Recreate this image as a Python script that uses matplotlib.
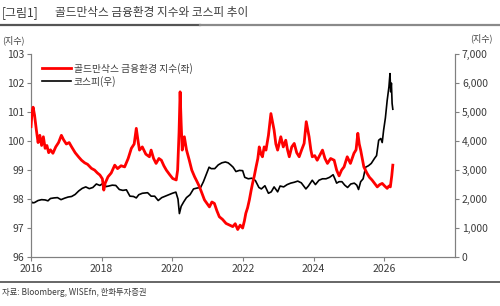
import matplotlib
matplotlib.use('Agg')
import matplotlib.pyplot as plt
from matplotlib.lines import Line2D
from matplotlib.ticker import FuncFormatter

plt.rcParams['font.family'] = ['Noto Sans CJK KR', 'DejaVu Sans']

# 골드만삭스 금융환경 지수 (left axis), decimal years
fci_t = [2016.00, 2016.03, 2016.06, 2016.10, 2016.15, 2016.20, 2016.25, 2016.30, 2016.35, 2016.40,
         2016.45, 2016.50, 2016.55, 2016.62, 2016.70, 2016.78, 2016.86, 2016.92, 2017.00, 2017.08,
         2017.15, 2017.25, 2017.35, 2017.43, 2017.52, 2017.60, 2017.71, 2017.80, 2017.88, 2017.95,
         2018.02, 2018.06, 2018.10, 2018.18, 2018.27, 2018.37, 2018.45, 2018.55, 2018.65, 2018.75,
         2018.84, 2018.92, 2018.98, 2019.03, 2019.07, 2019.15, 2019.25, 2019.35, 2019.40, 2019.47,
         2019.54, 2019.62, 2019.69, 2019.76, 2019.83, 2019.92, 2020.01, 2020.11, 2020.15, 2020.19,
         2020.22, 2020.25, 2020.28, 2020.34, 2020.40, 2020.48, 2020.55, 2020.63, 2020.70, 2020.77,
         2020.84, 2020.91, 2020.98, 2021.05, 2021.12, 2021.19, 2021.26, 2021.33, 2021.42, 2021.52,
         2021.62, 2021.71, 2021.78, 2021.85, 2021.92, 2021.99, 2022.04, 2022.08, 2022.13, 2022.18,
         2022.23, 2022.27, 2022.32, 2022.37, 2022.42, 2022.46, 2022.51, 2022.55, 2022.60, 2022.65,
         2022.72, 2022.79, 2022.83, 2022.88, 2022.93, 2022.98, 2023.03, 2023.07, 2023.14, 2023.21,
         2023.26, 2023.31, 2023.38, 2023.45, 2023.52, 2023.59, 2023.66, 2023.73, 2023.79, 2023.83,
         2023.87, 2023.92, 2023.96, 2024.03, 2024.10, 2024.17, 2024.25, 2024.32, 2024.39, 2024.48,
         2024.58, 2024.65, 2024.72, 2024.79, 2024.86, 2024.95, 2025.04, 2025.14, 2025.20, 2025.25,
         2025.29, 2025.33, 2025.42, 2025.51, 2025.58, 2025.65, 2025.72, 2025.80, 2025.87, 2025.94,
         2026.01, 2026.08, 2026.13, 2026.17, 2026.21, 2026.24]
fci_v = [100.50, 101.00, 101.17, 100.90, 100.40, 99.95, 100.20, 99.85, 100.15, 99.75,
         99.85, 99.60, 99.70, 99.58, 99.80, 99.95, 100.20, 100.05, 99.90, 99.95,
         99.80, 99.60, 99.45, 99.34, 99.25, 99.20, 99.06, 99.00, 98.90, 98.83,
         98.70, 98.31, 98.55, 98.77, 98.90, 99.17, 99.05, 99.15, 99.11, 99.40,
         99.75, 99.90, 100.44, 100.00, 99.69, 99.80, 99.55, 99.46, 99.69, 99.40,
         99.23, 99.40, 99.34, 99.15, 99.00, 98.85, 98.71, 98.66, 99.00, 100.30,
         101.70, 100.60, 99.69, 100.15, 99.70, 99.34, 99.00, 98.77, 98.60, 98.42,
         98.20, 97.97, 97.85, 97.73, 97.90, 97.85, 97.60, 97.39, 97.30, 97.16,
         97.10, 97.05, 97.15, 96.95, 97.10, 97.00, 97.25, 97.51, 97.70, 97.97,
         98.30, 98.54, 98.80, 99.11, 99.40, 99.80, 99.55, 99.46, 99.80, 99.69,
         100.20, 100.95, 100.70, 100.38, 99.90, 99.69, 99.95, 100.15, 99.80, 100.03,
         99.70, 99.46, 99.80, 99.92, 99.60, 99.46, 99.70, 99.92, 100.67, 100.40,
         100.15, 99.70, 99.46, 99.50, 99.34, 99.50, 99.69, 99.40, 99.23, 99.40,
         99.34, 99.00, 98.80, 99.00, 99.11, 99.46, 99.23, 99.58, 99.70, 100.27,
         99.90, 99.69, 99.11, 98.89, 98.75, 98.66, 98.55, 98.42, 98.50, 98.54,
         98.45, 98.37, 98.45, 98.42, 98.80, 99.17]

# 코스피 (right axis)
kospi_t = [2016.00, 2016.05, 2016.10, 2016.20, 2016.30, 2016.40, 2016.48, 2016.55, 2016.65, 2016.75,
           2016.85, 2016.95, 2017.05, 2017.15, 2017.25, 2017.35, 2017.45, 2017.55, 2017.65, 2017.75,
           2017.85, 2017.95, 2018.06, 2018.12, 2018.20, 2018.30, 2018.40, 2018.50, 2018.60, 2018.70,
           2018.80, 2018.90, 2018.98, 2019.05, 2019.15, 2019.30, 2019.40, 2019.50, 2019.60, 2019.70,
           2019.80, 2019.90, 2020.00, 2020.10, 2020.16, 2020.20, 2020.25, 2020.32, 2020.40, 2020.50,
           2020.60, 2020.70, 2020.80, 2020.88, 2020.96, 2021.04, 2021.10, 2021.20, 2021.30, 2021.40,
           2021.50, 2021.58, 2021.65, 2021.72, 2021.80, 2021.90, 2021.99, 2022.05, 2022.15, 2022.25,
           2022.35, 2022.45, 2022.52, 2022.62, 2022.72, 2022.80, 2022.88, 2022.98, 2023.05, 2023.15,
           2023.25, 2023.35, 2023.45, 2023.55, 2023.65, 2023.78, 2023.85, 2023.96, 2024.05, 2024.15,
           2024.25, 2024.35, 2024.45, 2024.55, 2024.60, 2024.65, 2024.72, 2024.80, 2024.88, 2024.96,
           2025.05, 2025.15, 2025.22, 2025.27, 2025.33, 2025.40, 2025.47, 2025.55, 2025.63, 2025.72,
           2025.78, 2025.84, 2025.90, 2025.94, 2025.98, 2026.03, 2026.08, 2026.13, 2026.16, 2026.18,
           2026.20, 2026.22, 2026.24]
kospi_v = [1920, 1870, 1880, 1950, 1980, 1970, 1940, 2020, 2040, 2050,
           1980, 2030, 2070, 2090, 2160, 2280, 2370, 2420, 2360, 2400,
           2520, 2470, 2560, 2430, 2450, 2480, 2470, 2330, 2300, 2320,
           2100, 2090, 2040, 2150, 2200, 2220, 2100, 2100, 1950, 2050,
           2100, 2150, 2200, 2240, 2000, 1500, 1750, 1900, 2050, 2150,
           2350, 2380, 2400, 2600, 2850, 3100, 3050, 3050, 3180, 3250,
           3280, 3250, 3180, 3100, 2950, 2990, 2980, 2750, 2700, 2720,
           2640, 2400, 2350, 2460, 2200, 2250, 2420, 2250, 2450, 2420,
           2500, 2550, 2580, 2620, 2560, 2350, 2450, 2650, 2500, 2650,
           2700, 2700, 2750, 2840, 2700, 2550, 2600, 2600, 2480, 2400,
           2520, 2550, 2480, 2330, 2600, 2700, 3100, 3150, 3230, 3400,
           3500, 4030, 4090, 3950, 4380, 4800, 5400, 5870, 6330, 5700,
           6000, 5300, 5100]

assert len(fci_t) == len(fci_v) and len(kospi_t) == len(kospi_v)

left_ticks = [96, 97, 98, 99, 100, 101, 102, 103]
right_ticks = [0, 1000, 2000, 3000, 4000, 5000, 6000, 7000]
year_ticks = [2016, 2018, 2020, 2022, 2024, 2026]

axis_gray = '#808080'
text_gray = '#3c3c3c'

fig = plt.figure(figsize=(5, 3.06), dpi=100)
ax = fig.add_axes([0.062, 0.16, 0.848, 0.663])
ax2 = ax.twinx()

ax.plot(fci_t, fci_v, color='#ff0000', lw=2.0, zorder=3)
ax2.plot(kospi_t, kospi_v, color='black', lw=1.2, zorder=2)
ax.set_zorder(ax2.get_zorder() + 1)
ax.patch.set_visible(False)

ax.set_xlim(2016, 2028)
ax.set_ylim(96, 103)
ax2.set_ylim(0, 7000)
ax.set_xticks(year_ticks)
ax.set_yticks(left_ticks)
ax2.set_yticks(right_ticks)
ax2.yaxis.set_major_formatter(FuncFormatter(lambda v, p: f'{int(v):,}'))

for a in (ax, ax2):
    a.spines['top'].set_visible(False)
    for s in ('left', 'right', 'bottom'):
        a.spines[s].set_color(axis_gray)
        a.spines[s].set_linewidth(0.8)
    a.tick_params(colors=axis_gray, labelcolor=text_gray, labelsize=7.5,
                  length=3, width=0.8, pad=2)

fig.text(0.004, 0.868, '(지수)', fontsize=6.5, color=text_gray, va='center')
fig.text(0.986, 0.875, '(지수)', fontsize=6.5, color=text_gray, va='center', ha='right')

handles = [Line2D([], [], color='#ff0000', lw=2.0),
           Line2D([], [], color='black', lw=1.2)]
ax.legend(handles, ['골드만삭스 금융환경 지수(좌)', '코스피(우)'],
          loc='upper left', bbox_to_anchor=(0.005, 1.0), frameon=False,
          fontsize=7, handlelength=3, handletextpad=0.3, labelspacing=0.2,
          labelcolor=text_gray)

# title block
fig.text(0.004, 0.96, '[그림1]', fontsize=8.6, color=text_gray, va='center')
fig.text(0.11, 0.96, '골드만삭스 금융환경 지수와 코스피 추이', fontsize=8.4,
         color=text_gray, va='center')
fig.add_artist(Line2D([0, 0.4], [0.918, 0.918], color='#555555', lw=1.6))
fig.add_artist(Line2D([0.4, 1], [0.918, 0.918], color='#8a8a8a', lw=1.6))

# source
fig.add_artist(Line2D([0, 1], [0.078, 0.078], color='#666666', lw=1.4))
fig.text(0.004, 0.045, '자료: Bloomberg, WISEfn, 한화투자증권', fontsize=6,
         color=text_gray, va='center')

fig.savefig('out.png', dpi=100)
